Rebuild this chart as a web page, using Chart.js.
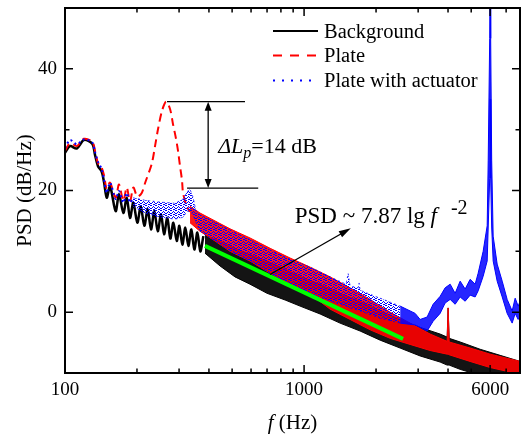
<!DOCTYPE html>
<html>
<head>
<meta charset="utf-8">
<script src="https://cdn.jsdelivr.net/npm/chart.js@4/dist/chart.umd.min.js"></script>
<style>
  html, body { margin: 0; padding: 0; background: #fff; }
  #wrap { width: 521px; height: 439px; }
</style>
</head>
<body>
<div id="wrap"><canvas id="psd" width="521" height="439"></canvas></div>
<script>
// Frequencies in Hz, PSD in dB/Hz

// Background: low-frequency curve and its ripple
const bgLowF = [100, 105, 112, 120, 130, 133.6, 137.4, 142.1, 145.6, 149.5, 154.3, 162.9, 168.2, 175.4, 181.2,
  187.1, 193.1, 200.7, 207.4, 214.7, 221.8, 229, 236.4, 244.3, 252.2, 259.6, 267.9, 275.8, 283.9, 293.4,
  300.8, 309.6, 318.7, 328.1, 337.7, 347.5, 357.8, 368.2, 379];
const bgLowV = [26.2, 27.3, 26.9, 28.3, 27.7, 25.8, 24.0, 23.2, 21.4, 18.8, 20.7, 16.6, 19.4, 16.3, 18.8,
  15.5, 18.0, 14.7, 17.4, 14.2, 16.9, 13.6, 16.6, 13.3, 16.1, 12.8, 15.5, 12.1, 14.7, 11.7,
  14.2, 11.1, 13.9, 10.9, 13.6, 10.3, 13.1, 10.0, 12.5];
// Background: dense part, top and bottom edge of the band
const bgBandF = [385, 445, 514, 594, 700, 833, 962, 1167, 1414, 1715, 2080, 2522, 3057, 3707, 3966, 4004, 4044, 4495, 5450, 6607, 8013];
const bgBandHi = [12.7, 11.7, 10.5, 9.5, 8.4, 7.1, 5.9, 4.6, 3.1, 1.8, 0.2, -1.2, -2.5, -3.6, -4.1, 0.7, -4.3, -4.9, -6.1, -7.1, -8.1];
const bgBandLo = [9.7, 7.6, 5.8, 4.6, 3.1, 2.0, 1.0, -0.3, -1.8, -3.1, -4.6, -5.9, -7.2, -8.2, -8.7, -8.7, -8.7, -9.4, -10.4, -11.2, -12.0];

// Plate: low-frequency curve with the 265 Hz peak
const plLowF = [100, 105, 112, 120, 130, 133.6, 137.4, 142.1, 145.6, 149.5, 154.3, 162.9, 168.2, 175.4, 181.2,
  187.1, 193.1, 200.7, 209.4, 216.1, 230.6, 238, 245, 254.6, 264.7, 275, 283, 291.3, 297, 302.8,
  308.7, 311.7, 323, 333.4];
const plLowV = [26.5, 27.8, 27.3, 28.5, 28.0, 26.5, 24.5, 23.8, 22.5, 20.3, 21.3, 18.8, 21.0, 18.3, 20.5,
  18.2, 20.5, 19.0, 19.6, 21.2, 24.4, 27.3, 30.1, 33.1, 34.6, 33.4, 30.9, 28.5, 26.5, 24.0,
  21.6, 19.6, 17.4, 16.5];
const plBandF = [333.4, 367, 424, 490, 594, 721, 874, 1060, 1285, 1558, 1889, 2290, 2776, 3366, 3966, 4004, 4044, 4950, 6001, 8013];
const plBandHi = [17.4, 16.3, 15.0, 13.7, 12.2, 10.5, 8.9, 7.4, 5.8, 4.0, 2.1, 0.0, -1.8, -3.6, -4.8, 0.7, -4.9, -5.9, -6.9, -8.1];
const plBandLo = [14.7, 13.3, 11.7, 10.0, 8.4, 6.4, 4.6, 3.0, 0.5, -1.2, -2.9, -4.3, -5.3, -6.3, -6.9, -6.9, -7.0, -8.1, -9.1, -10.2];

// Plate with actuator
const acLowF = [100, 105, 112, 120, 130, 133.6, 137.4, 142.1, 145.6, 149.5, 154.3, 162.9, 168.2, 175.4, 181.2, 187.1, 192.5];
const acLowV = [27.0, 28.3, 27.6, 28.4, 27.9, 26.3, 24.7, 23.6, 21.8, 19.6, 21.3, 18.6, 19.9, 18.0, 19.6, 18.0, 18.8];
const acMidF = [192.5, 216.1, 249.7, 288.6, 311.7, 323.9, 333.4, 343.2, 353.3, 367.2, 424, 490, 594, 721, 874,
  1060, 1285, 1499, 1528, 1558, 1683, 1699, 1715, 2080, 2522];
const acMidHi = [18.8, 18.4, 18.1, 17.9, 18.6, 19.8, 20.2, 18.9, 16.6, 16.0, 14.8, 13.5, 11.9, 10.2, 8.7,
  7.4, 5.8, 4.6, 6.4, 4.3, 4.0, 4.8, 3.6, 2.3, 1.0];
const acMidLo = [17.4, 16.3, 15.6, 15.3, 15.6, 16.6, 16.6, 16.0, 14.7, 13.3, 11.7, 10.0, 8.4, 6.4, 4.6,
  3.1, 1.8, 1.0, 0.8, 0.7, 0.3, 0.3, 0.2, -1.0, -1.8];
const acHighF = [2522, 2914, 3057, 3270, 3465, 3707, 3890, 4083, 4283, 4495, 4717, 4950, 5194, 5346, 5610,
  5832, 5890, 5975, 6003, 6032, 6090, 6178, 6421, 6739, 7070, 7419, 7636, 7860, 8013];
const acHighHi = [1.0, -0.2, -1.2, -0.8, 1.3, 2.6, 4.0, 4.6, 3.1, 5.1, 3.8, 5.4, 4.6, 6.4, 10.0,
  14.2, 25, 45, 62, 45, 25, 12.5, 7.9, 5.1, 2.1, 0.2, 2.3, 1.0, 1.8];
const acHighLo = [-1.8, -2.1, -2.5, -3.1, -1.5, -0.2, 1.5, 2.1, 1.3, 2.5, 1.8, 2.8, 2.5, 3.5, 5.9,
  8.4, 14, 22, 35, 22, 14, 8.4, 5.1, 2.5, -0.2, -1.8, -0.2, -1.2, -0.7];

// fitted slope line
const fitF = [385, 2594];
const fitV = [10.9, -4.4];

// annotations
const dLpTopF = [267, 566], dLpTopV = 34.6;
const dLpBaseF = [324, 643], dLpBaseV = 20.4;
const dLpArrowF = 397;
const fitArrowF = [720, 1568], fitArrowV = [6.2, 13.8];

// axes
const xTickLabels = [100, 1000, 6000];
const xMinorTicks = [200, 300, 400, 500, 600, 700, 800, 900, 2000, 3000, 4000, 5000, 7000];
const yTickLabels = [0, 20, 40];
const yMinorTicks = [10, 30];

const serif = "'Liberation Serif', 'Times New Roman', serif";
const pts = (fs, vs) => fs.map((f, i) => ({ x: f, y: vs[i] }));

const canvas = document.getElementById("psd");

// speckled fill, so the red band shows through the blue one
function speckle(color) {
  const tile = document.createElement("canvas");
  tile.width = 5; tile.height = 5;
  const g = tile.getContext("2d");
  g.fillStyle = color;
  [[0, 0], [1, 0], [3, 1], [2, 2], [4, 2], [0, 3], [1, 3], [3, 4], [4, 4]].forEach(p => g.fillRect(p[0], p[1], 1, 1));
  return canvas.getContext("2d").createPattern(tile, "repeat");
}

const line = (data, color, width, order, extra) => Object.assign({
  data: data, borderColor: color, borderWidth: width, pointRadius: 0, tension: 0, fill: false, order: order
}, extra || {});

const datasets = [
  line(pts(bgLowF, bgLowV), "#000", 2.5, 5, { label: "Background", tension: 0.3, legendDash: [] }),
  line(pts(bgBandF, bgBandHi), "#000", 1, 5, { fill: "+1", backgroundColor: "rgba(0,0,0,0.92)" }),
  line(pts(bgBandF, bgBandLo), "#000", 1, 5),
  line(pts(plLowF, plLowV), "#ff0000", 2, 4, { label: "Plate", borderDash: [8, 5], tension: 0.3, legendDash: [9, 8] }),
  line(pts(plBandF, plBandHi), "#ff0000", 1, 4, { fill: "+1", backgroundColor: "rgba(255,0,0,0.9)" }),
  line(pts(plBandF, plBandLo), "#ff0000", 1, 4),
  line(pts(acLowF, acLowV), "#0000ff", 2, 3, { label: "Plate with actuator", borderDash: [2, 3], tension: 0.3, legendDash: [2, 7] }),
  line(pts(acMidF, acMidHi), "rgba(0,0,255,0.7)", 1, 3, { fill: "+1", backgroundColor: speckle("#0000ff"), borderDash: [2, 3] }),
  line(pts(acMidF, acMidLo), "rgba(0,0,255,0.7)", 1, 3, { borderDash: [2, 3] }),
  line(pts(acHighF, acHighHi), "#0000ff", 1, 2, { fill: "+1", backgroundColor: "rgba(0,0,255,0.85)" }),
  line(pts(acHighF, acHighLo), "#0000ff", 1, 2),
  line(pts(fitF, fitV), "#00ff00", 4, 1),
];

function arrowHead(ctx, x0, y0, x1, y1, len, half) {
  const a = Math.atan2(y1 - y0, x1 - x0);
  const bx = x1 - len * Math.cos(a), by = y1 - len * Math.sin(a);
  ctx.beginPath();
  ctx.moveTo(x1, y1);
  ctx.lineTo(bx + half * Math.sin(a), by - half * Math.cos(a));
  ctx.lineTo(bx - half * Math.sin(a), by + half * Math.cos(a));
  ctx.closePath();
  ctx.fill();
}

// frame, inward ticks, legend and annotations
const decorations = {
  id: "decorations",
  afterDatasetsDraw(chart) {
    const { ctx, chartArea: a, scales: { x, y } } = chart;
    ctx.save();
    ctx.strokeStyle = "#000";
    ctx.fillStyle = "#000";

    ctx.lineWidth = 2;
    ctx.strokeRect(a.left, a.top, a.right - a.left, a.bottom - a.top);

    ctx.lineWidth = 1.5;
    ctx.beginPath();
    const xTick = (v, len) => {
      const px = x.getPixelForValue(v);
      ctx.moveTo(px, a.bottom); ctx.lineTo(px, a.bottom - len);
      ctx.moveTo(px, a.top); ctx.lineTo(px, a.top + len);
    };
    const yTick = (v, len) => {
      const py = y.getPixelForValue(v);
      ctx.moveTo(a.left, py); ctx.lineTo(a.left + len, py);
      ctx.moveTo(a.right, py); ctx.lineTo(a.right - len, py);
    };
    xTickLabels.forEach(v => xTick(v, 8));
    xMinorTicks.forEach(v => xTick(v, 4.5));
    yTickLabels.forEach(v => yTick(v, 8));
    yMinorTicks.forEach(v => yTick(v, 4.5));
    ctx.stroke();

    // ΔLp marker
    ctx.lineWidth = 1.3;
    const topY = y.getPixelForValue(dLpTopV), baseY = y.getPixelForValue(dLpBaseV);
    const ax = x.getPixelForValue(dLpArrowF);
    ctx.beginPath();
    ctx.moveTo(x.getPixelForValue(dLpTopF[0]), topY); ctx.lineTo(x.getPixelForValue(dLpTopF[1]), topY);
    ctx.moveTo(x.getPixelForValue(dLpBaseF[0]), baseY); ctx.lineTo(x.getPixelForValue(dLpBaseF[1]), baseY);
    ctx.moveTo(ax, topY + 6); ctx.lineTo(ax, baseY - 6);
    ctx.stroke();
    arrowHead(ctx, ax, baseY, ax, topY, 9, 3.5);
    arrowHead(ctx, ax, topY, ax, baseY, 9, 3.5);

    const tx = ax + 10, ty = (topY + baseY) / 2 + 8;
    ctx.textBaseline = "alphabetic";
    ctx.textAlign = "left";
    ctx.font = "italic 22px " + serif;
    ctx.fillText("\u0394L", tx, ty);
    let cx = tx + ctx.measureText("\u0394L").width;
    ctx.font = "italic 16px " + serif;
    ctx.fillText("p", cx, ty + 5);
    cx += ctx.measureText("p").width;
    ctx.font = "22px " + serif;
    ctx.fillText("=14 dB", cx, ty);

    // slope arrow and label
    const p0x = x.getPixelForValue(fitArrowF[0]), p0y = y.getPixelForValue(fitArrowV[0]);
    const p1x = x.getPixelForValue(fitArrowF[1]), p1y = y.getPixelForValue(fitArrowV[1]);
    const len = Math.hypot(p1x - p0x, p1y - p0y);
    ctx.beginPath();
    ctx.moveTo(p0x, p0y);
    ctx.lineTo(p1x - 6 * (p1x - p0x) / len, p1y - 6 * (p1y - p0y) / len);
    ctx.stroke();
    arrowHead(ctx, p0x, p0y, p1x, p1y, 12, 3.5);

    let sx = p1x - 56, sy = p1y - 5;
    ctx.font = "23px " + serif;
    ctx.fillText("PSD ~ 7.87 lg ", sx, sy);
    sx += ctx.measureText("PSD ~ 7.87 lg ").width;
    ctx.font = "italic 23px " + serif;
    ctx.fillText("f", sx, sy);
    sx += ctx.measureText("f").width + 14;
    ctx.font = "20px " + serif;
    ctx.fillText("-2", sx, sy - 9);

    // legend
    const legendRows = [31, 55.5, 80.5];
    chart.data.datasets.filter(d => d.label).forEach((d, i) => {
      const ly = legendRows[i];
      ctx.save();
      ctx.strokeStyle = d.borderColor;
      ctx.lineWidth = 2;
      ctx.setLineDash(d.legendDash || []);
      ctx.beginPath();
      ctx.moveTo(273, ly); ctx.lineTo(318, ly);
      ctx.stroke();
      ctx.restore();
      ctx.font = "20.5px " + serif;
      ctx.fillText(d.label, 324, ly + 6.8);
    });

    ctx.restore();
  },
  afterDraw(chart) {
    // x axis title with italic f
    const { ctx, chartArea: a } = chart;
    ctx.save();
    ctx.fillStyle = "#000";
    ctx.textBaseline = "alphabetic";
    ctx.font = "italic 21px " + serif;
    const w1 = ctx.measureText("f").width;
    ctx.font = "21px " + serif;
    const w2 = ctx.measureText(" (Hz)").width;
    const x0 = (a.left + a.right) / 2 - (w1 + w2) / 2;
    ctx.font = "italic 21px " + serif;
    ctx.fillText("f", x0, 429);
    ctx.font = "21px " + serif;
    ctx.fillText(" (Hz)", x0 + w1, 429);
    ctx.restore();
  }
};

new Chart(canvas, {
  type: "line",
  data: { datasets: datasets },
  options: {
    responsive: false,
    devicePixelRatio: 1,
    animation: false,
    layout: { padding: { left: 0, right: 1, top: 8, bottom: 0 } },
    plugins: { legend: { display: false }, tooltip: { enabled: false } },
    scales: {
      x: {
        type: "logarithmic",
        min: 100,
        max: 8000,
        bounds: "data",
        grid: { display: false, drawTicks: false },
        border: { display: false },
        ticks: {
          color: "#000",
          font: { family: serif, size: 19 },
          padding: 6,
          autoSkip: false,
          maxRotation: 0,
          callback: v => String(v)
        },
        afterBuildTicks: s => { s.ticks = xTickLabels.map(v => ({ value: v })); },
        afterFit: s => { s.height = 66; s.paddingLeft = 0; s.paddingRight = 0; }
      },
      y: {
        type: "linear",
        min: -10,
        max: 50,
        grid: { display: false, drawTicks: false },
        border: { display: false },
        ticks: {
          color: "#000",
          font: { family: serif, size: 19 },
          padding: 8,
          callback: v => String(v)
        },
        afterBuildTicks: s => { s.ticks = yTickLabels.map(v => ({ value: v })); },
        afterFit: s => { s.width = 65; s.paddingTop = 0; s.paddingBottom = 0; },
        title: {
          display: true,
          text: "PSD (dB/Hz)",
          color: "#000",
          font: { family: serif, size: 21 },
          padding: { top: 13, bottom: 0 }
        }
      }
    }
  },
  plugins: [decorations]
});
</script>
</body>
</html>
